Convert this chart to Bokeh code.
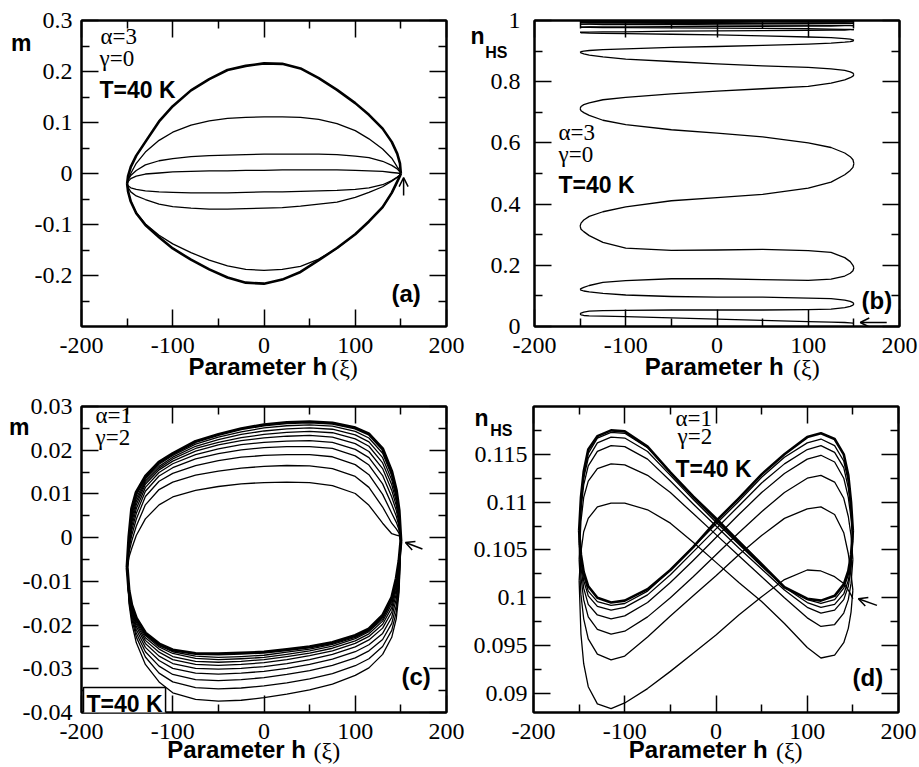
from bokeh.plotting import figure
from bokeh.models import Range1d, LinearAxis, FixedTicker, Label, Arrow, OpenHead
from bokeh.layouts import row, column
from bokeh.embed import file_html
from bokeh.resources import INLINE

# ---------------- Panel (a): m vs h, alpha=3, gamma=0 ----------------
A_H = [-150, -149, -146, -140, -130, -115, -100, -80, -60, -40, -20, 0, 20, 40, 60, 80, 100, 115, 130, 140, 146, 149, 150]
A_U1 = [-0.020, -0.016, -0.010, -0.005, -0.001, 0.001, 0.003, 0.004, 0.005, 0.005, 0.006, 0.006, 0.007, 0.007, 0.007, 0.007, 0.006, 0.005, 0.004, 0.002, 0.001, 0.000, 0.000]
A_L1 = [-0.020, -0.024, -0.028, -0.031, -0.034, -0.036, -0.037, -0.038, -0.038, -0.038, -0.037, -0.036, -0.036, -0.035, -0.034, -0.033, -0.031, -0.028, -0.022, -0.014, -0.007, -0.003, 0.000]
A_U2 = [-0.020, -0.013, -0.004, 0.006, 0.017, 0.025, 0.029, 0.033, 0.035, 0.036, 0.037, 0.038, 0.038, 0.038, 0.038, 0.037, 0.034, 0.031, 0.024, 0.016, 0.009, 0.003, 0.000]
A_L2 = [-0.020, -0.027, -0.036, -0.044, -0.051, -0.060, -0.065, -0.068, -0.070, -0.070, -0.069, -0.068, -0.067, -0.064, -0.060, -0.056, -0.047, -0.037, -0.026, -0.015, -0.008, -0.003, 0.000]
A_U3 = [-0.020, -0.012, 0.000, 0.020, 0.042, 0.065, 0.081, 0.095, 0.103, 0.108, 0.110, 0.111, 0.111, 0.110, 0.106, 0.098, 0.084, 0.068, 0.048, 0.030, 0.013, 0.005, 0.000]
A_L3 = [-0.020, -0.035, -0.054, -0.077, -0.099, -0.121, -0.138, -0.155, -0.170, -0.181, -0.188, -0.190, -0.188, -0.182, -0.168, -0.147, -0.119, -0.094, -0.066, -0.038, -0.016, -0.005, 0.000]
A_U4 = [-0.020, -0.005, 0.013, 0.035, 0.062, 0.102, 0.132, 0.163, 0.185, 0.203, 0.211, 0.216, 0.215, 0.206, 0.187, 0.164, 0.138, 0.115, 0.088, 0.062, 0.039, 0.020, 0.000]
A_L4 = [-0.020, -0.035, -0.055, -0.078, -0.101, -0.125, -0.147, -0.169, -0.188, -0.204, -0.214, -0.216, -0.208, -0.193, -0.170, -0.146, -0.119, -0.094, -0.066, -0.038, -0.016, -0.005, 0.000]
A_THIN = [A_U1, A_L1, A_U2, A_L2, A_U3, A_L3]
A_THICK = [A_U4, A_L4]

# ---------------- Panel (b): n_HS vs h, alpha=3, gamma=0 ----------------
B_H = [-150, -149, -146, -140, -125, -100, -50, 0, 50, 100, 125, 140, 146, 149, 150]
B_SEGMENTS = [
    [0.041, 0.038, 0.036, 0.035, 0.034, 0.032, 0.028, 0.024, 0.020, 0.016, 0.014, 0.013, 0.012, 0.011, 0.011],
    [0.041, 0.044, 0.047, 0.050, 0.052, 0.053, 0.054, 0.054, 0.054, 0.055, 0.057, 0.062, 0.066, 0.070, 0.074],
    [0.121, 0.119, 0.116, 0.113, 0.108, 0.103, 0.098, 0.096, 0.096, 0.093, 0.091, 0.086, 0.082, 0.078, 0.074],
    [0.121, 0.124, 0.128, 0.134, 0.144, 0.150, 0.156, 0.156, 0.153, 0.151, 0.155, 0.165, 0.174, 0.182, 0.192],
    [0.328, 0.318, 0.310, 0.297, 0.275, 0.256, 0.249, 0.250, 0.252, 0.248, 0.242, 0.225, 0.212, 0.200, 0.192],
    [0.328, 0.338, 0.348, 0.360, 0.375, 0.391, 0.411, 0.421, 0.432, 0.452, 0.472, 0.496, 0.510, 0.520, 0.532],
    [0.712, 0.705, 0.699, 0.690, 0.674, 0.660, 0.643, 0.632, 0.620, 0.600, 0.585, 0.567, 0.555, 0.545, 0.532],
    [0.712, 0.719, 0.725, 0.731, 0.741, 0.749, 0.760, 0.769, 0.777, 0.785, 0.795, 0.806, 0.813, 0.818, 0.823],
    [0.896, 0.894, 0.891, 0.887, 0.881, 0.874, 0.866, 0.858, 0.852, 0.847, 0.842, 0.837, 0.832, 0.828, 0.823],
    [0.896, 0.898, 0.900, 0.902, 0.905, 0.907, 0.912, 0.915, 0.919, 0.923, 0.926, 0.929, 0.931, 0.933, 0.935],
    [0.961, 0.960, 0.960, 0.959, 0.958, 0.957, 0.955, 0.953, 0.950, 0.946, 0.944, 0.941, 0.939, 0.937, 0.935],
    [0.961, 0.962, 0.962, 0.962, 0.963, 0.963, 0.965, 0.966, 0.967, 0.968, 0.969, 0.969, 0.970, 0.970, 0.970],
    [0.978, 0.978, 0.978, 0.978, 0.977, 0.977, 0.976, 0.975, 0.974, 0.973, 0.972, 0.971, 0.971, 0.970, 0.970],
    [0.978, 0.978, 0.978, 0.979, 0.979, 0.979, 0.980, 0.981, 0.981, 0.982, 0.982, 0.983, 0.983, 0.983, 0.983],
    [0.988, 0.988, 0.988, 0.988, 0.987, 0.987, 0.987, 0.986, 0.985, 0.985, 0.984, 0.984, 0.984, 0.983, 0.983],
    [0.988, 0.988, 0.988, 0.989, 0.989, 0.989, 0.990, 0.990, 0.990, 0.991, 0.991, 0.991, 0.991, 0.991, 0.991],
    [0.994, 0.994, 0.994, 0.994, 0.994, 0.993, 0.993, 0.993, 0.992, 0.992, 0.992, 0.992, 0.991, 0.991, 0.991],
    [0.994, 0.994, 0.994, 0.994, 0.995, 0.995, 0.995, 0.995, 0.996, 0.996, 0.996, 0.996, 0.996, 0.996, 0.996],
    [0.998, 0.998, 0.998, 0.998, 0.998, 0.997, 0.997, 0.997, 0.997, 0.997, 0.996, 0.996, 0.996, 0.996, 0.996],
    [0.998, 0.998, 0.998, 0.998, 0.998, 0.998, 0.998, 0.999, 0.999, 0.999, 0.999, 0.999, 0.999, 0.999, 0.999],
]

# ---------------- Panel (c): m vs h, alpha=1, gamma=2 ----------------
C_H = [-150, -148, -145, -140, -130, -115, -100, -75, -50, -25, 0, 25, 50, 75, 100, 115, 130, 140, 145, 148, 150]
C_UPPER = [
    [-0.0068, -0.0045, -0.0025, 0.0005, 0.0043, 0.0075, 0.0093, 0.0108, 0.0117, 0.0123, 0.0126, 0.0127, 0.0126, 0.0119, 0.0101, 0.0074, 0.0033, 0.0009, 0.0006, 0.0004, 0.0002],
    [-0.0068, -0.0034, -0.0008, 0.0026, 0.0075, 0.0110, 0.0127, 0.0143, 0.0152, 0.0159, 0.0163, 0.0165, 0.0164, 0.0158, 0.0140, 0.0115, 0.0070, 0.0033, 0.0020, 0.0010, -0.0008],
    [-0.0068, -0.0026, 0.0005, 0.0042, 0.0094, 0.0129, 0.0147, 0.0165, 0.0176, 0.0184, 0.0188, 0.0190, 0.0190, 0.0185, 0.0167, 0.0144, 0.0099, 0.0056, 0.0035, 0.0018, -0.0008],
    [-0.0068, -0.0020, 0.0016, 0.0055, 0.0106, 0.0141, 0.0160, 0.0180, 0.0192, 0.0201, 0.0206, 0.0208, 0.0208, 0.0204, 0.0187, 0.0166, 0.0123, 0.0076, 0.0049, 0.0026, -0.0008],
    [-0.0068, -0.0015, 0.0025, 0.0066, 0.0115, 0.0149, 0.0169, 0.0190, 0.0203, 0.0213, 0.0218, 0.0221, 0.0222, 0.0218, 0.0202, 0.0183, 0.0142, 0.0093, 0.0062, 0.0034, -0.0008],
    [-0.0068, -0.0011, 0.0034, 0.0075, 0.0122, 0.0155, 0.0175, 0.0198, 0.0212, 0.0222, 0.0228, 0.0232, 0.0234, 0.0230, 0.0215, 0.0197, 0.0158, 0.0108, 0.0073, 0.0040, -0.0008],
    [-0.0068, -0.0008, 0.0042, 0.0083, 0.0127, 0.0159, 0.0180, 0.0204, 0.0218, 0.0229, 0.0236, 0.0241, 0.0243, 0.0240, 0.0226, 0.0209, 0.0171, 0.0121, 0.0083, 0.0046, -0.0008],
    [-0.0068, -0.0005, 0.0050, 0.0090, 0.0131, 0.0163, 0.0184, 0.0209, 0.0224, 0.0236, 0.0244, 0.0249, 0.0251, 0.0248, 0.0235, 0.0219, 0.0183, 0.0132, 0.0092, 0.0052, -0.0008],
    [-0.0068, -0.0002, 0.0058, 0.0097, 0.0135, 0.0168, 0.0188, 0.0214, 0.0230, 0.0242, 0.0251, 0.0256, 0.0258, 0.0255, 0.0243, 0.0228, 0.0193, 0.0142, 0.0100, 0.0057, -0.0008],
]
C_UPPER_LIMIT = [-0.0068, 0.0001, 0.0066, 0.0104, 0.0140, 0.0173, 0.0192, 0.0220, 0.0236, 0.0249, 0.0258, 0.0263, 0.0265, 0.0262, 0.0251, 0.0237, 0.0203, 0.0151, 0.0108, 0.0062, -0.0008]
C_LOWER = [
    [-0.0068, -0.0150, -0.0195, -0.0240, -0.0290, -0.0330, -0.0355, -0.0370, -0.0374, -0.0372, -0.0366, -0.0358, -0.0348, -0.0335, -0.0315, -0.0298, -0.0267, -0.0228, -0.0185, -0.0125, -0.0008],
    [-0.0068, -0.0143, -0.0185, -0.0227, -0.0273, -0.0310, -0.0330, -0.0343, -0.0346, -0.0344, -0.0339, -0.0332, -0.0323, -0.0311, -0.0293, -0.0277, -0.0249, -0.0212, -0.0170, -0.0115, -0.0008],
    [-0.0068, -0.0138, -0.0178, -0.0218, -0.0261, -0.0294, -0.0313, -0.0325, -0.0327, -0.0325, -0.0320, -0.0313, -0.0304, -0.0292, -0.0275, -0.0259, -0.0233, -0.0196, -0.0155, -0.0104, -0.0008],
    [-0.0068, -0.0134, -0.0172, -0.0210, -0.0251, -0.0281, -0.0299, -0.0310, -0.0312, -0.0310, -0.0306, -0.0299, -0.0290, -0.0278, -0.0261, -0.0245, -0.0219, -0.0182, -0.0140, -0.0093, -0.0008],
    [-0.0068, -0.0130, -0.0167, -0.0203, -0.0242, -0.0271, -0.0288, -0.0299, -0.0301, -0.0299, -0.0295, -0.0288, -0.0279, -0.0267, -0.0250, -0.0234, -0.0207, -0.0170, -0.0128, -0.0083, -0.0008],
    [-0.0068, -0.0127, -0.0163, -0.0197, -0.0235, -0.0262, -0.0279, -0.0290, -0.0292, -0.0290, -0.0286, -0.0279, -0.0270, -0.0259, -0.0242, -0.0226, -0.0198, -0.0160, -0.0118, -0.0074, -0.0008],
    [-0.0068, -0.0125, -0.0160, -0.0193, -0.0229, -0.0255, -0.0272, -0.0283, -0.0285, -0.0283, -0.0279, -0.0272, -0.0264, -0.0253, -0.0236, -0.0220, -0.0191, -0.0152, -0.0110, -0.0066, -0.0008],
    [-0.0068, -0.0123, -0.0157, -0.0189, -0.0224, -0.0250, -0.0265, -0.0276, -0.0279, -0.0277, -0.0274, -0.0267, -0.0259, -0.0248, -0.0231, -0.0215, -0.0186, -0.0146, -0.0103, -0.0060, -0.0008],
    [-0.0068, -0.0122, -0.0155, -0.0186, -0.0221, -0.0247, -0.0261, -0.0271, -0.0274, -0.0272, -0.0269, -0.0262, -0.0255, -0.0244, -0.0228, -0.0212, -0.0182, -0.0141, -0.0098, -0.0056, -0.0008],
]
C_LOWER_LIMIT = [-0.0068, -0.0121, -0.0154, -0.0184, -0.0218, -0.0243, -0.0257, -0.0265, -0.0266, -0.0264, -0.0262, -0.0256, -0.0250, -0.0240, -0.0224, -0.0209, -0.0178, -0.0137, -0.0093, -0.0053, -0.0008]

# ---------------- Panel (d): n_HS vs h, alpha=1, gamma=2 ----------------
D_H = [-150, -148, -145, -140, -130, -115, -100, -75, -50, -25, 0, 25, 50, 75, 100, 115, 130, 140, 145, 148, 150]
D_BRANCHES = [
    [0.1018, 0.0962, 0.0931, 0.0907, 0.0889, 0.0884, 0.0890, 0.0905, 0.0923, 0.0942, 0.0961, 0.0982, 0.1001, 0.1019, 0.1029, 0.1028, 0.1022, 0.1015, 0.1008, 0.1003, 0.0999],
    [0.1018, 0.1048, 0.1069, 0.1083, 0.1095, 0.1099, 0.1099, 0.1092, 0.1078, 0.1058, 0.1037, 0.1016, 0.0996, 0.0973, 0.0948, 0.0937, 0.0940, 0.0953, 0.0968, 0.0985, 0.1008],
    [0.1040, 0.1003, 0.0978, 0.0957, 0.0941, 0.0935, 0.0939, 0.0959, 0.0981, 0.1002, 0.1023, 0.1045, 0.1065, 0.1083, 0.1093, 0.1095, 0.1087, 0.1068, 0.1046, 0.1025, 0.1008],
    [0.1040, 0.1080, 0.1105, 0.1122, 0.1135, 0.1140, 0.1139, 0.1128, 0.1110, 0.1088, 0.1066, 0.1044, 0.1022, 0.1000, 0.0979, 0.0970, 0.0972, 0.0984, 0.0998, 0.1015, 0.1040],
    [0.1055, 0.1022, 0.0998, 0.0980, 0.0967, 0.0962, 0.0965, 0.0980, 0.1000, 0.1022, 0.1045, 0.1068, 0.1090, 0.1110, 0.1125, 0.1128, 0.1121, 0.1104, 0.1085, 0.1065, 0.1040],
    [0.1055, 0.1092, 0.1118, 0.1138, 0.1153, 0.1159, 0.1158, 0.1145, 0.1122, 0.1098, 0.1075, 0.1052, 0.1030, 0.1008, 0.0990, 0.0984, 0.0987, 0.0998, 0.1012, 0.1030, 0.1060],
    [0.1060, 0.1032, 0.1010, 0.0993, 0.0982, 0.0978, 0.0981, 0.0995, 0.1016, 0.1039, 0.1063, 0.1087, 0.1110, 0.1130, 0.1145, 0.1149, 0.1142, 0.1125, 0.1105, 0.1083, 0.1060],
    [0.1060, 0.1098, 0.1125, 0.1146, 0.1162, 0.1168, 0.1167, 0.1153, 0.1128, 0.1103, 0.1079, 0.1056, 0.1033, 0.1011, 0.0995, 0.0990, 0.0993, 0.1004, 0.1018, 0.1036, 0.1065],
    [0.1065, 0.1038, 0.1018, 0.1002, 0.0991, 0.0987, 0.0990, 0.1003, 0.1024, 0.1048, 0.1072, 0.1096, 0.1120, 0.1140, 0.1155, 0.1159, 0.1152, 0.1136, 0.1115, 0.1090, 0.1065],
    [0.1065, 0.1102, 0.1129, 0.1151, 0.1167, 0.1173, 0.1172, 0.1157, 0.1131, 0.1105, 0.1081, 0.1057, 0.1034, 0.1011, 0.0998, 0.0994, 0.0998, 0.1010, 0.1024, 0.1042, 0.1068],
    [0.1070, 0.1042, 0.1023, 0.1007, 0.0996, 0.0992, 0.0994, 0.1007, 0.1029, 0.1053, 0.1077, 0.1101, 0.1126, 0.1147, 0.1162, 0.1166, 0.1159, 0.1143, 0.1122, 0.1096, 0.1068],
]
D_LIMIT_A = [0.1070, 0.1105, 0.1132, 0.1155, 0.1169, 0.1175, 0.1174, 0.1158, 0.1131, 0.1106, 0.1083, 0.1059, 0.1035, 0.1011, 0.0999, 0.0997, 0.1002, 0.1014, 0.1028, 0.1045, 0.1070]
D_LIMIT_B = [0.1070, 0.1045, 0.1027, 0.1012, 0.1000, 0.0995, 0.0997, 0.1009, 0.1029, 0.1053, 0.1080, 0.1104, 0.1129, 0.1150, 0.1168, 0.1172, 0.1166, 0.1150, 0.1128, 0.1100, 0.1070]

# ---------------- Ticks ----------------
X_TICKS = [-200, -100, 0, 100, 200]
X_MINOR = [-150, -50, 50, 150]
X_LABELS = ["-200", "-100", "0", "100", "200"]
A_YTICKS = [-0.2, -0.1, 0, 0.1, 0.2, 0.3]
A_YMINOR = [-0.25, -0.15, -0.05, 0.05, 0.15, 0.25]
A_YLABELS = ["-0.2", "-0.1", "0", "0.1", "0.2", "0.3"]
B_YTICKS = [0, 0.2, 0.4, 0.6, 0.8, 1.0]
B_YMINOR = [0.1, 0.3, 0.5, 0.7, 0.9]
B_YLABELS = ["0", "0.2", "0.4", "0.6", "0.8", "1"]
C_YTICKS = [-0.04, -0.03, -0.02, -0.01, 0, 0.01, 0.02, 0.03]
C_YMINOR = [-0.035, -0.025, -0.015, -0.005, 0.005, 0.015, 0.025]
C_YLABELS = ["-0.04", "-0.03", "-0.02", "-0.01", "0", "0.01", "0.02", "0.03"]
D_YTICKS = [0.09, 0.095, 0.1, 0.105, 0.11, 0.115]
D_YMINOR = [0.0925, 0.0975, 0.1025, 0.1075, 0.1125, 0.1175]
D_YLABELS = ["0.09", "0.095", "0.1", "0.105", "0.11", "0.115"]

SERIF = "Liberation Serif"
SANS = "Liberation Sans"
THIN = 1.3
THICK = 2.6


def tick_axis(ax, ticks, minor):
    """Axis that only draws the frame line and inward ticks."""
    ax.ticker = FixedTicker(ticks=ticks, minor_ticks=minor)
    ax.axis_line_color = "black"
    ax.axis_line_width = 2
    ax.major_tick_in = 17
    ax.major_tick_out = 0
    ax.minor_tick_in = 8
    ax.minor_tick_out = 0
    ax.major_tick_line_width = 1.5
    ax.minor_tick_line_width = 1.5
    ax.major_tick_line_color = "black"
    ax.minor_tick_line_color = "black"
    ax.major_label_text_color = None
    ax.major_label_text_font_size = "1px"
    ax.major_label_standoff = 0


def text_axis(p, side, ticks, labels, font, size, bold, standoff):
    """Axis that only draws its tick labels (no line, no tick marks)."""
    ax = LinearAxis(ticker=FixedTicker(ticks=ticks, minor_ticks=[]))
    ax.major_label_overrides = {t: l for t, l in zip(ticks, labels)}
    ax.axis_line_color = None
    ax.major_tick_line_color = None
    ax.minor_tick_line_color = None
    ax.major_tick_in = 0
    ax.major_tick_out = 0
    ax.minor_tick_in = 0
    ax.minor_tick_out = 0
    ax.major_label_text_font = font
    ax.major_label_text_font_size = size
    ax.major_label_text_font_style = "bold" if bold else "normal"
    ax.major_label_text_color = "black"
    ax.major_label_standoff = standoff
    p.add_layout(ax, side)


def make_panel(yr, left, right, top, bottom, yticks, yminor):
    p = figure(frame_width=365, frame_height=306,
               min_border_left=left, min_border_right=right,
               min_border_top=top, min_border_bottom=bottom,
               x_range=Range1d(-200, 200), y_range=Range1d(*yr),
               output_backend="svg", toolbar_location=None, tools="")
    p.xgrid.visible = False
    p.ygrid.visible = False
    p.outline_line_color = "black"
    p.outline_line_width = 2
    p.background_fill_color = "white"
    p.border_fill_color = "white"
    tick_axis(p.xaxis[0], X_TICKS, X_MINOR)
    tick_axis(p.yaxis[0], yticks, yminor)
    top_ax = LinearAxis()
    tick_axis(top_ax, X_TICKS, X_MINOR)
    p.add_layout(top_ax, "above")
    right_ax = LinearAxis()
    tick_axis(right_ax, yticks, yminor)
    p.add_layout(right_ax, "right")
    return p


def add_text(p, frame_left, frame_bottom, px, py, text, font, size, bold=False, boxed=False):
    lab = Label(x=px - frame_left, y=frame_bottom - py,
                x_units="screen", y_units="screen", text=text,
                text_font=font, text_font_size=size,
                text_font_style="bold" if bold else "normal",
                text_align="left", text_baseline="alphabetic",
                text_color="black")
    if boxed:
        lab.border_line_color = "black"
        lab.border_line_width = 1.5
        lab.background_fill_color = "white"
        lab.padding = 3
    p.add_layout(lab)


def add_arrow(p, xs, ys, xe, ye):
    p.add_layout(Arrow(end=OpenHead(size=9, line_width=1.5, line_color="black"),
                       x_start=xs, y_start=ys, x_end=xe, y_end=ye,
                       line_width=1.5, line_color="black"))


def bottom_texts(p, h_param, h_xi, so_param, so_xi):
    text_axis(p, "below", X_TICKS, X_LABELS, SERIF, "24px", False, 11)
    text_axis(p, "below", [h_param], ["Parameter h"], SANS, "24px", True, so_param)
    text_axis(p, "below", [h_xi], ["(\u03be)"], SERIF, "24px", False, so_xi)


# ---- (a)
pa = make_panel((-0.3, 0.3), 81, 21, 20, 61, A_YTICKS, A_YMINOR)
for ys in A_THIN:
    pa.line(A_H, ys, line_color="black", line_width=THIN, line_join="round")
for ys in A_THICK:
    pa.line(A_H, ys, line_color="black", line_width=THICK, line_join="round")
text_axis(pa, "left", A_YTICKS, A_YLABELS, SERIF, "24px", False, 9)
text_axis(pa, "left", [0.255], ["m"], SANS, "23px", True, 0)
bottom_texts(pa, -6.7, 88.2, -3, -28)
FA = (81, 326)
add_text(pa, *FA, 100, 36, "\u03b1=3", SERIF, "23px")
add_text(pa, *FA, 99, 58, "\u03b3=0", SERIF, "23px")
add_text(pa, *FA, 99, 89.5, "T=40 K", SANS, "23px", True)
add_text(pa, *FA, 391, 293, "(a)", SANS, "24px", True)
add_arrow(pa, 153, -0.043, 153, -0.008)

# ---- (b)
pb = make_panel((0, 1), 66, 20, 20, 61, B_YTICKS, B_YMINOR)
pb.multi_line([B_H] * len(B_SEGMENTS), B_SEGMENTS, line_color="black", line_width=THIN, line_join="round")
text_axis(pb, "left", [0.896], ["HS"], SANS, "16px", True, 27)
text_axis(pb, "left", [0.949], ["n"], SANS, "23px", True, -2)
text_axis(pb, "left", B_YTICKS, B_YLABELS, SERIF, "24px", False, -53)
bottom_texts(pb, -3.1, 97.9, -3, -28)
FB = (533, 326)
add_text(pb, *FB, 557, 131.5, "\u03b1=3", SERIF, "23px")
add_text(pb, *FB, 557, 154, "\u03b3=0", SERIF, "23px")
add_text(pb, *FB, 557, 184.5, "T=40 K", SANS, "23px", True)
add_text(pb, *FB, 860, 299.5, "(b)", SANS, "24px", True)
add_arrow(pb, 186, 0.013, 157, 0.013)

# ---- (c)
pc = make_panel((-0.04, 0.03), 81, 19, 19, 54, C_YTICKS, C_YMINOR)
pc.multi_line([C_H] * len(C_UPPER), C_UPPER, line_color="black", line_width=THIN, line_join="round")
pc.multi_line([C_H] * len(C_LOWER), C_LOWER, line_color="black", line_width=THIN, line_join="round")
pc.line(C_H, C_UPPER_LIMIT, line_color="black", line_width=THICK + 0.6, line_join="round")
pc.line(C_H, C_LOWER_LIMIT, line_color="black", line_width=THICK + 0.6, line_join="round")
text_axis(pc, "left", C_YTICKS, C_YLABELS, SERIF, "24px", False, 9)
text_axis(pc, "left", [0.0252], ["m"], SANS, "23px", True, -10)
bottom_texts(pc, -30, 69, -6, -28)
FC = (81, 712)
add_text(pc, *FC, 95, 415, "\u03b1=1", SERIF, "23px")
add_text(pc, *FC, 95, 437, "\u03b3=2", SERIF, "23px")
add_text(pc, *FC, 83, 703, "T=40 K", SANS, "23px", True, boxed=True)
add_text(pc, *FC, 401, 676, "(c)", SANS, "24px", True)
add_arrow(pc, 173.6, -0.0026, 155, -0.0011)

# ---- (d)
pd = make_panel((0.088, 0.12), 68, 20, 19, 54, D_YTICKS, D_YMINOR)
pd.multi_line([D_H] * len(D_BRANCHES), D_BRANCHES, line_color="black", line_width=THIN, line_join="round")
pd.line(D_H, D_LIMIT_A, line_color="black", line_width=THICK, line_join="round")
pd.line(D_H, D_LIMIT_B, line_color="black", line_width=THICK, line_join="round")
text_axis(pd, "left", [0.1175], ["HS"], SANS, "16px", True, 21)
text_axis(pd, "left", [0.1188], ["n"], SANS, "23px", True, -1)
text_axis(pd, "left", D_YTICKS, D_YLABELS, SERIF, "24px", False, -56)
bottom_texts(pd, -19.5, 80.3, -6, -28)
FD = (533, 712)
add_text(pd, *FD, 675, 418, "\u03b1=1", SERIF, "23px")
add_text(pd, *FD, 677, 436, "\u03b3=2", SERIF, "23px")
add_text(pd, *FD, 675, 468, "T=40 K", SANS, "23px", True)
add_text(pd, *FD, 852, 677, "(d)", SANS, "24px", True)
add_arrow(pd, 176.4, 0.0992, 156, 0.0999)

layout = column(row(pa, pb), row(pc, pd))
open("out.html", "w").write(file_html(layout, INLINE))
